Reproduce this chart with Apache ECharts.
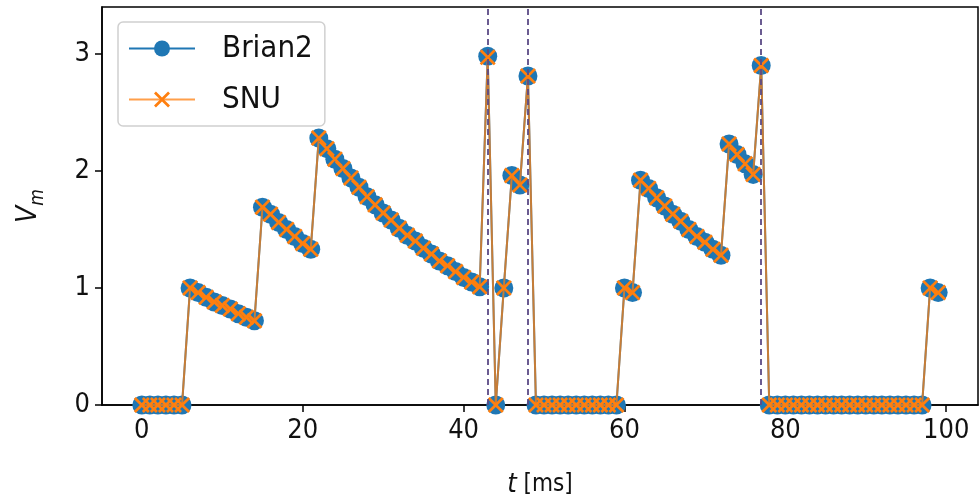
<!DOCTYPE html>
<html>
<head>
<meta charset="utf-8">
<script src="https://cdn.jsdelivr.net/npm/echarts@6/dist/echarts.min.js"></script>
<style>
html,body{margin:0;padding:0;background:#fff;}
#chart{width:980px;height:499px;}
</style>
</head>
<body>
<div id="chart"></div>
<script>
// Time points (ms)
var times = [];
for (var k = 0; k < 100; k++) times.push(k);

// Membrane potential
var brian2Values = [
  0,0,0,0,0,0,
  1.00,0.96,0.92,0.88,0.85,0.82,0.78,0.75,0.72,
  1.69,1.63,1.56,1.50,1.44,1.38,1.33,
  2.28,2.19,2.10,2.02,1.94,1.86,1.78,1.71,1.64,1.58,1.51,1.45,1.40,1.34,1.29,1.23,1.19,1.14,1.09,1.05,1.01,
  2.98,
  0,
  1.00,1.96,1.88,
  2.81,
  0,0,0,0,0,0,0,0,0,0,0,
  1.00,0.96,1.92,1.85,1.77,1.70,1.63,1.57,1.50,1.44,1.39,1.33,1.28,
  2.23,2.14,2.06,1.97,
  2.90,
  0,0,0,0,0,0,0,0,0,0,0,0,0,0,0,0,0,0,0,0,
  1.00,0.96
];
var snuValues = [
  0,0,0,0,0,0,
  1.00,0.96,0.92,0.88,0.85,0.82,0.78,0.75,0.72,
  1.69,1.63,1.56,1.50,1.44,1.38,1.33,
  2.28,2.19,2.10,2.02,1.94,1.86,1.78,1.71,1.64,1.58,1.51,1.45,1.40,1.34,1.29,1.23,1.19,1.14,1.09,1.05,1.01,
  2.97,
  0,
  1.00,1.96,1.88,
  2.81,
  0,0,0,0,0,0,0,0,0,0,0,
  1.00,0.96,1.92,1.85,1.77,1.70,1.63,1.57,1.50,1.44,1.39,1.33,1.28,
  2.23,2.14,2.06,1.97,
  2.90,
  0,0,0,0,0,0,0,0,0,0,0,0,0,0,0,0,0,0,0,0,
  1.00,0.96
];
var spikeTimes = [43, 48, 77];
var xTicks = [0, 20, 40, 60, 80, 100];
var yTicks = [0, 1, 2, 3];

var FONT = '"DejaVu Sans Condensed", "DejaVu Sans", sans-serif';
var xCross = 'path://M0,1.2 L1.2,0 L5,3.8 L8.8,0 L10,1.2 L6.2,5 L10,8.8 L8.8,10 L5,6.2 L1.2,10 L0,8.8 L3.8,5 Z';

function pairs(vals) {
  return times.map(function (t, i) { return [t, vals[i]]; });
}

var chart = echarts.init(document.getElementById('chart'), null, {renderer: 'canvas'});
chart.setOption({
  animation: false,
  backgroundColor: '#ffffff',
  grid: {
    left: 102, right: 2, top: 7, bottom: 94,
    outerBoundsMode: 'none', containLabel: false,
    show: true, borderColor: '#000', borderWidth: 1.5, backgroundColor: 'transparent'
  },
  legend: {
    left: 118, top: 22,
    orient: 'vertical',
    itemWidth: 66, itemHeight: 20, itemGap: 20,
    padding: [11, 12, 11, 10],
    backgroundColor: 'rgba(255,255,255,0.85)',
    borderColor: '#d0d0d0', borderWidth: 1.5, borderRadius: 5,
    textStyle: {fontFamily: FONT, fontSize: 31, color: '#111', padding: [0,0,0,22]},
    data: ['Brian2', 'SNU']
  },
  xAxis: {
    type: 'value', min: -4.95, max: 103.95,
    name: '{i|t} [ms]', nameLocation: 'middle', nameGap: 66,
    nameTextStyle: {fontFamily: FONT, fontSize: 24, color: '#111',
      rich: {i: {fontFamily: FONT, fontSize: 27, fontStyle: 'italic', color: '#111'}}},
    axisLine: {show: true, onZero: false, lineStyle: {color: '#000', width: 1.5}},
    axisTick: {show: true, customValues: xTicks, length: 7, lineStyle: {color: '#000', width: 1.5}},
    axisLabel: {customValues: xTicks, fontFamily: FONT, fontSize: 27, color: '#111', margin: 12},
    splitLine: {show: false}
  },
  yAxis: {
    type: 'value', min: 0, max: 3.4,
    name: '{v|V}{m|m}', nameLocation: 'middle', nameGap: 54, nameRotate: 90,
    nameTextStyle: {rich: {
      v: {fontFamily: FONT, fontSize: 28, fontStyle: 'italic', color: '#111', verticalAlign: 'top'},
      m: {fontFamily: FONT, fontSize: 19, fontStyle: 'italic', color: '#111', padding: [14, 0, 0, 0]}
    }},
    axisLine: {show: true, onZero: false, lineStyle: {color: '#000', width: 1.5}},
    axisTick: {show: true, customValues: yTicks, length: 7, lineStyle: {color: '#000', width: 1.5}},
    axisLabel: {customValues: yTicks, fontFamily: FONT, fontSize: 27, color: '#111', margin: 12},
    splitLine: {show: false}
  },
  series: [
    {
      name: 'Brian2', type: 'line', data: pairs(brian2Values),
      symbol: 'circle', symbolSize: 19, showAllSymbol: true,
      lineStyle: {color: '#1f77b4', width: 2},
      itemStyle: {color: '#1f77b4'},
      z: 2
    },
    {
      name: 'SNU', type: 'line', data: pairs(snuValues),
      symbol: xCross, symbolSize: 16, showAllSymbol: true,
      lineStyle: {color: '#ff7f0e', width: 2, opacity: 0.75},
      itemStyle: {color: '#ff7f0e'},
      z: 3,
      markLine: {
        silent: true, symbol: 'none', label: {show: false},
        lineStyle: {color: '#5b4a86', type: [6, 4], width: 1.8},
        data: spikeTimes.map(function (t) { return {xAxis: t}; })
      }
    }
  ]
});
</script>
</body>
</html>
